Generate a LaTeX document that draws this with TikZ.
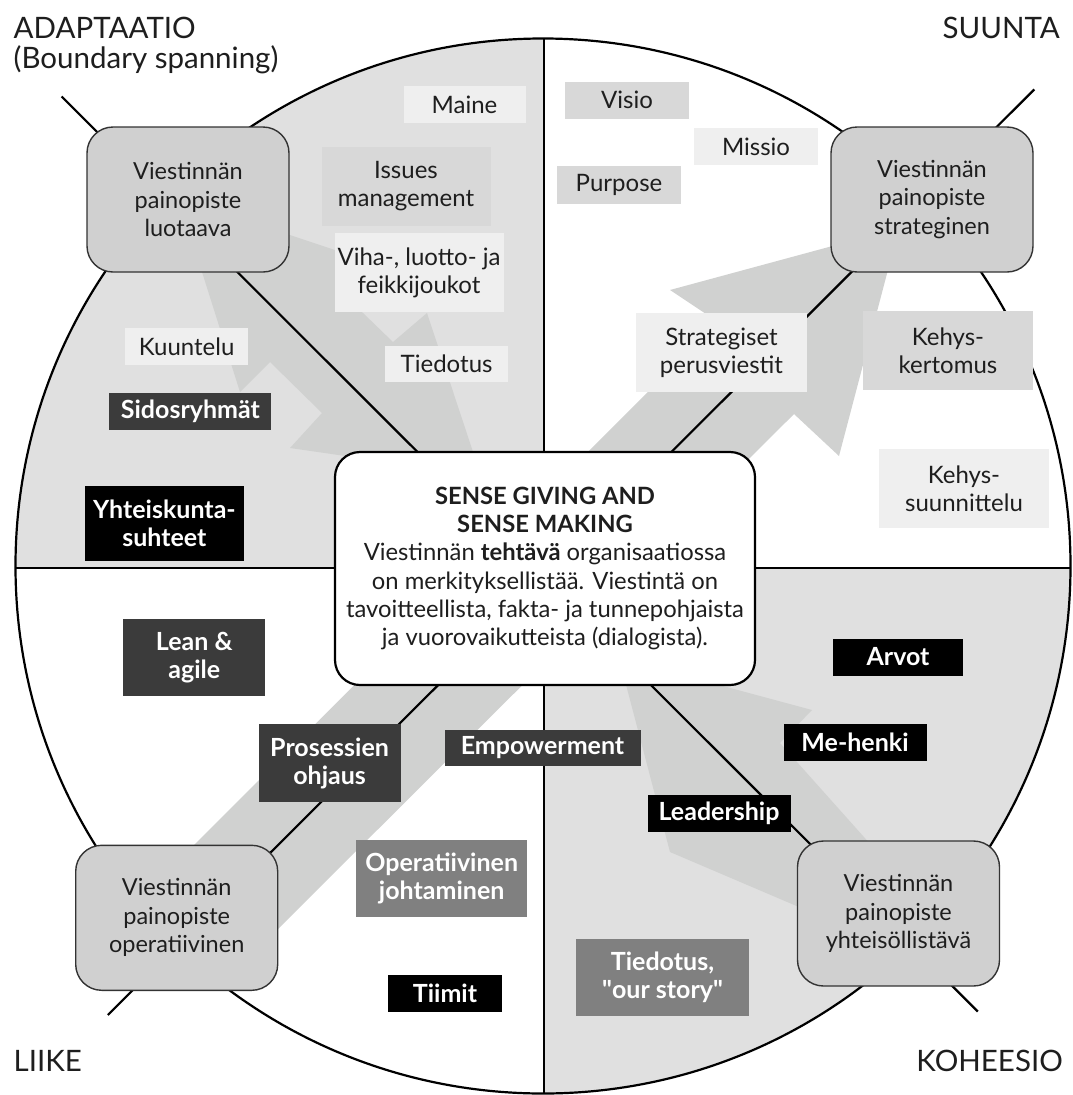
\documentclass[tikz,border=0pt]{standalone}
\usepackage{fontspec}
\setmainfont{Lato}
\newfontfamily\straightq{Lato}
\definecolor{bggray}{HTML}{E0E0E0}
\definecolor{arrowgray}{HTML}{D0D1D0}
\definecolor{cornerfill}{HTML}{D0D0D0}
\definecolor{cornerline}{HTML}{333333}
\definecolor{boxlight}{HTML}{EFEFEF}
\definecolor{boxmid}{HTML}{D8D8D8}
\definecolor{boxdark}{HTML}{3B3B3B}
\definecolor{boxgray}{HTML}{808080}
\definecolor{txt}{HTML}{1E1E1E}
\begin{document}
\begin{tikzpicture}[x=1pt,y=-1pt,
  lbl/.style={inner sep=0pt, align=center, font=\fontsize{24}{28}\selectfont, text=txt},
  lightbox/.style={lbl, fill=boxlight},
  midbox/.style={lbl, fill=boxmid},
  darkbox/.style={lbl, fill=boxdark, text=white, font=\bfseries\fontsize{25}{28}\selectfont},
  blackbox/.style={darkbox, fill=black},
  graybox/.style={darkbox, fill=boxgray},
  cornerbox/.style={lbl, rounded corners=26pt, fill=cornerfill, draw=cornerline, line width=1.4pt, minimum width=202pt, minimum height=145pt, font=\fontsize{23.5}{28.5}\selectfont},
  cornerlabel/.style={inner sep=0pt, font=\fontsize{29.5}{30}\selectfont, text=txt},
  axis/.style={line width=2.2pt, draw=black},
  flow/.style={fill=arrowgray}
]
\useasboundingbox (0,0) rectangle (1072,1095);
\fill[white] (0,0) rectangle (1072,1095);

% quadrant shading
\begin{scope}
  \clip (543,566) circle[radius=527.5];
  \fill[bggray] (0,0) rectangle (544,568);
  \fill[bggray] (544,568) rectangle (1072,1095);
\end{scope}

% broad flow arrows
\fill[flow] (196,253) -- (240,392) -- (270,362) -- (322,413) -- (290,448) -- (380,461)
  -- (480,500) -- (479,470) -- (427,313) -- (393,342) -- (363,313) -- (350,300)
  -- (350,255) -- (290,235) -- (270,228) -- cycle;
\fill[flow] (619,658) -- (812,710) -- (780,743) -- (880,855) -- (820,916) -- (670,852) -- cycle;
\fill[flow] (170,869) -- (718,322) -- (670,290) -- (899,228) -- (839,456) -- (794,414) -- (250,957) -- cycle;

% circle, cross and diagonals
\draw[axis] (543,566) circle[radius=527.5];
\begin{scope}
  \clip (543,566) circle[radius=527.5];
  \draw[axis] (544,0) -- (544,1095);
  \draw[axis] (0,568) -- (1072,568);
\end{scope}
\coordinate (dTL) at (61.6,96.5);
\coordinate (dBR) at (977.8,1011.5);
\coordinate (dTR) at (1034.3,89.4);
\coordinate (dBL) at (107.9,1015);
\draw[axis] (dTL) -- (dBR);
\draw[axis] (dTR) -- (dBL);

% top-left quadrant
\node[lightbox, minimum width=122pt, minimum height=37pt] (maine) at (464.5,104.5) {Maine};
\node[midbox, minimum width=169pt, minimum height=79pt] (issues) at (406,186.5) {Issues\\management};
\node[lightbox, minimum width=169pt, minimum height=79pt] (viha) at (419,272.5) {Viha-, luotto- ja\\feikkijoukot};
\node[lightbox, minimum width=123pt, minimum height=37pt] (kuuntelu) at (186.6,346.5) {Kuuntelu};
\node[lightbox, minimum width=123pt, minimum height=36pt] (tiedotus) at (446.6,363.5) {Tiedotus};
\node[darkbox, minimum width=162pt, minimum height=37pt] (sidos) at (190.4,411.5) {Sidosryhmät};
\node[blackbox, minimum width=159pt, minimum height=75pt] (yhteis) at (164.4,523.7) {Yhteiskunta-\\suhteet};

% top-right quadrant
\node[midbox, minimum width=124pt, minimum height=37pt] (visio) at (627,100) {Visio};
\node[lightbox, minimum width=124pt, minimum height=37pt] (missio) at (756,146.5) {Missio};
\node[midbox, minimum width=124pt, minimum height=38pt] (purpose) at (619,184.5) {Purpose};
\node[lightbox, minimum width=171pt, minimum height=79pt] (strat) at (721.5,352.5) {Strategiset\\perusviestit};
\node[midbox, minimum width=170pt, minimum height=79pt] (kertomus) at (948,350.5) {Kehys-\\kertomus};
\node[lightbox, minimum width=170pt, minimum height=79pt] (suunnittelu) at (964,488.5) {Kehys-\\suunnittelu};

% bottom-left quadrant
\node[darkbox, minimum width=142pt, minimum height=77pt] (lean) at (194.3,657.4) {Lean \&\\agile};
\node[darkbox, minimum width=142pt, minimum height=78pt] (prosessien) at (329.6,763) {Prosessien\\ohjaus};
\node[darkbox, minimum width=196pt, minimum height=36pt] (empower) at (542.5,748) {Empowerment};
\node[graybox, minimum width=171pt, minimum height=77pt] (operat) at (441.7,878.3) {Operatiivinen\\johtaminen};
\node[blackbox, minimum width=114pt, minimum height=37pt] (tiimit) at (445,993) {Tiimit};

% bottom-right quadrant
\node[blackbox, minimum width=130pt, minimum height=37pt] (arvot) at (898,657) {Arvot};
\node[blackbox, minimum width=143pt, minimum height=37pt] (mehenki) at (855,742) {Me-henki};
\node[blackbox, minimum width=143pt, minimum height=37pt] (leader) at (719,813) {Leadership};
\node[graybox, minimum width=173pt, minimum height=77pt] (story) at (662.5,977) {Tiedotus,\\{\straightq"}our story{\straightq"}};

% corner focus boxes
\node[cornerbox] (luotaava) at (188,199.5) {Viestinnän\\painopiste\\luotaava};
\node[cornerbox] (strateginen) at (932,199.5) {Viestinnän\\painopiste\\strateginen};
\node[cornerbox] (operatiivinen) at (176.7,917.8) {Viestinnän\\painopiste\\operatiivinen};
\node[cornerbox] (yhteisollistava) at (898.5,913.5) {Viestinnän\\painopiste\\yhteisöllistävä};

% centre
\node[draw=black, line width=2.2pt, fill=white, rounded corners=25pt, minimum width=420pt,
  minimum height=233pt, inner sep=0pt, align=center, font=\fontsize{23.8}{28.3}\selectfont, text=txt]
  (core) at (545,568.5) {\textbf{SENSE GIVING AND}\\\textbf{SENSE MAKING}\\Viestinnän \textbf{tehtävä} organisaatiossa\\on merkityksellistää. Viestintä on\\tavoitteellista, fakta- ja tunnepohjaista\\ja vuorovaikutteista (dialogista).};

% corner titles
\node[cornerlabel, anchor=north west, align=left] (adapt) at (13.5,16.5) {ADAPTAATIO\\(Boundary spanning)};
\node[cornerlabel, anchor=north east] (suunta) at (1060,16.5) {SUUNTA};
\node[cornerlabel, anchor=north west] (liike) at (13.5,1050) {LIIKE};
\node[cornerlabel, anchor=north east] (koheesio) at (1063,1050) {KOHEESIO};
\end{tikzpicture}
\end{document}
